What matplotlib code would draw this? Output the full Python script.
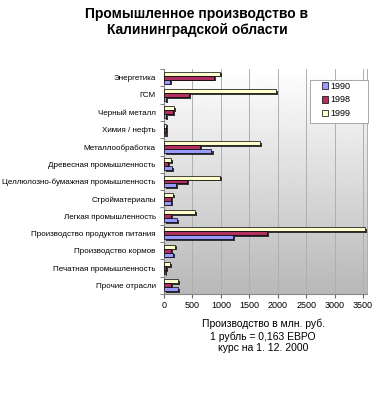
import numpy as np
import matplotlib
matplotlib.use('Agg')
import matplotlib.pyplot as plt
import matplotlib.patheffects as pe
from matplotlib.patches import Patch, Rectangle

plt.rcParams['font.family'] = ['Liberation Sans', 'DejaVu Sans']

# данные (млн. руб.)
categories = ['Энергетика', 'ГСМ', 'Черный металл', 'Химия / нефть', 'Металлообработка',
              'Древесная промышленность', 'Целлюлозно-бумажная промышленность',
              'Стройматериалы', 'Легкая промышленность', 'Производство продуктов питания',
              'Производство кормов', 'Печатная промышленность', 'Прочие отрасли']
v1990 = [105, 40, 35, 25, 835, 140, 210, 115, 220, 1215, 160, 20, 250]
v1998 = [880, 445, 150, 30, 640, 75, 410, 115, 115, 1810, 115, 40, 115]
v1999 = [990, 1970, 175, 40, 1690, 130, 990, 160, 540, 3530, 190, 105, 250]
years = ['1990', '1998', '1999']
colors = ['#9999FF', '#B0305F', '#FFFFCC']
xticks = [0, 500, 1000, 1500, 2000, 2500, 3000, 3500]

xmax = 3570
fig = plt.figure(figsize=(3.8, 3.98), dpi=100)
ax = fig.add_axes([164/380, 1-294/398, 203/380, 225/398])

# фон с градиентом
grad = np.linspace(1.0, 0.72, 256).reshape(-1, 1)
ax.imshow(grad, cmap='gray', vmin=0, vmax=1, aspect='auto',
          extent=[0, xmax, -0.5, 12.5], origin='upper', zorder=0)

n = len(categories)
y = np.arange(n)[::-1]
h = 0.23
shadow = [pe.SimplePatchShadow(offset=(1.5, -1.2), shadow_rgbFace='#222222', alpha=0.9), pe.Normal()]
for vals, off, col in [(v1999, h, colors[2]), (v1998, 0, colors[1]), (v1990, -h, colors[0])]:
    bars = ax.barh(y + off, vals, height=h, color=col, edgecolor='black', linewidth=0.5, zorder=3)
    for b in bars:
        b.set_path_effects(shadow)

ax.set_xlim(0, xmax)
ax.set_ylim(-0.5, n - 0.5)
ax.set_xticks(xticks)
ax.set_xticklabels([str(t) for t in xticks], fontsize=6.5)
ax.set_yticks(y)
ax.set_yticklabels(categories, fontsize=5.8)
ax.set_yticks(np.arange(n + 1) - 0.5, minor=True)
ax.tick_params(axis='y', which='major', length=0, pad=6)
ax.tick_params(axis='y', which='minor', length=3, color='#666666')
ax.tick_params(axis='x', length=3, color='#666666', pad=2)
ax.grid(axis='x', color='#A9B0B8', linewidth=0.7, zorder=1)
ax.spines['top'].set_visible(False)
ax.spines['right'].set_color('#A0A0A0')
ax.spines['right'].set_linewidth(0.6)
ax.spines['left'].set_color('#888888')
ax.spines['bottom'].set_color('#888888')

# рамка легенды
ax.add_patch(Rectangle((310/380, 1-123/398), 58/380, 43/398, transform=fig.transFigure,
                       facecolor='white', edgecolor='#999999', linewidth=0.6,
                       clip_on=False, zorder=4))
handles = [Patch(facecolor=c, edgecolor='black', linewidth=0.5) for c in colors]
leg = ax.legend(handles, years, loc='center', bbox_to_anchor=(336/380, 1-100/398),
                bbox_transform=fig.transFigure, fontsize=6.5,
                handlelength=0.7, handleheight=0.7, handletextpad=0.2, labelspacing=0.55,
                borderpad=0, frameon=False)
leg.set_zorder(5)

fig.text(197/380, 1-22/398, 'Промышленное производство в\nКалининградской области',
         ha='center', va='center', fontsize=10, fontweight='bold', linespacing=1.25)
fig.text(263/380, 1-336/398, 'Производство в млн. руб.\n1 рубль = 0,163 ЕВРО\nкурс на 1. 12. 2000',
         ha='center', va='center', fontsize=7.5, linespacing=1.2)

fig.savefig('out.png', dpi=100)
